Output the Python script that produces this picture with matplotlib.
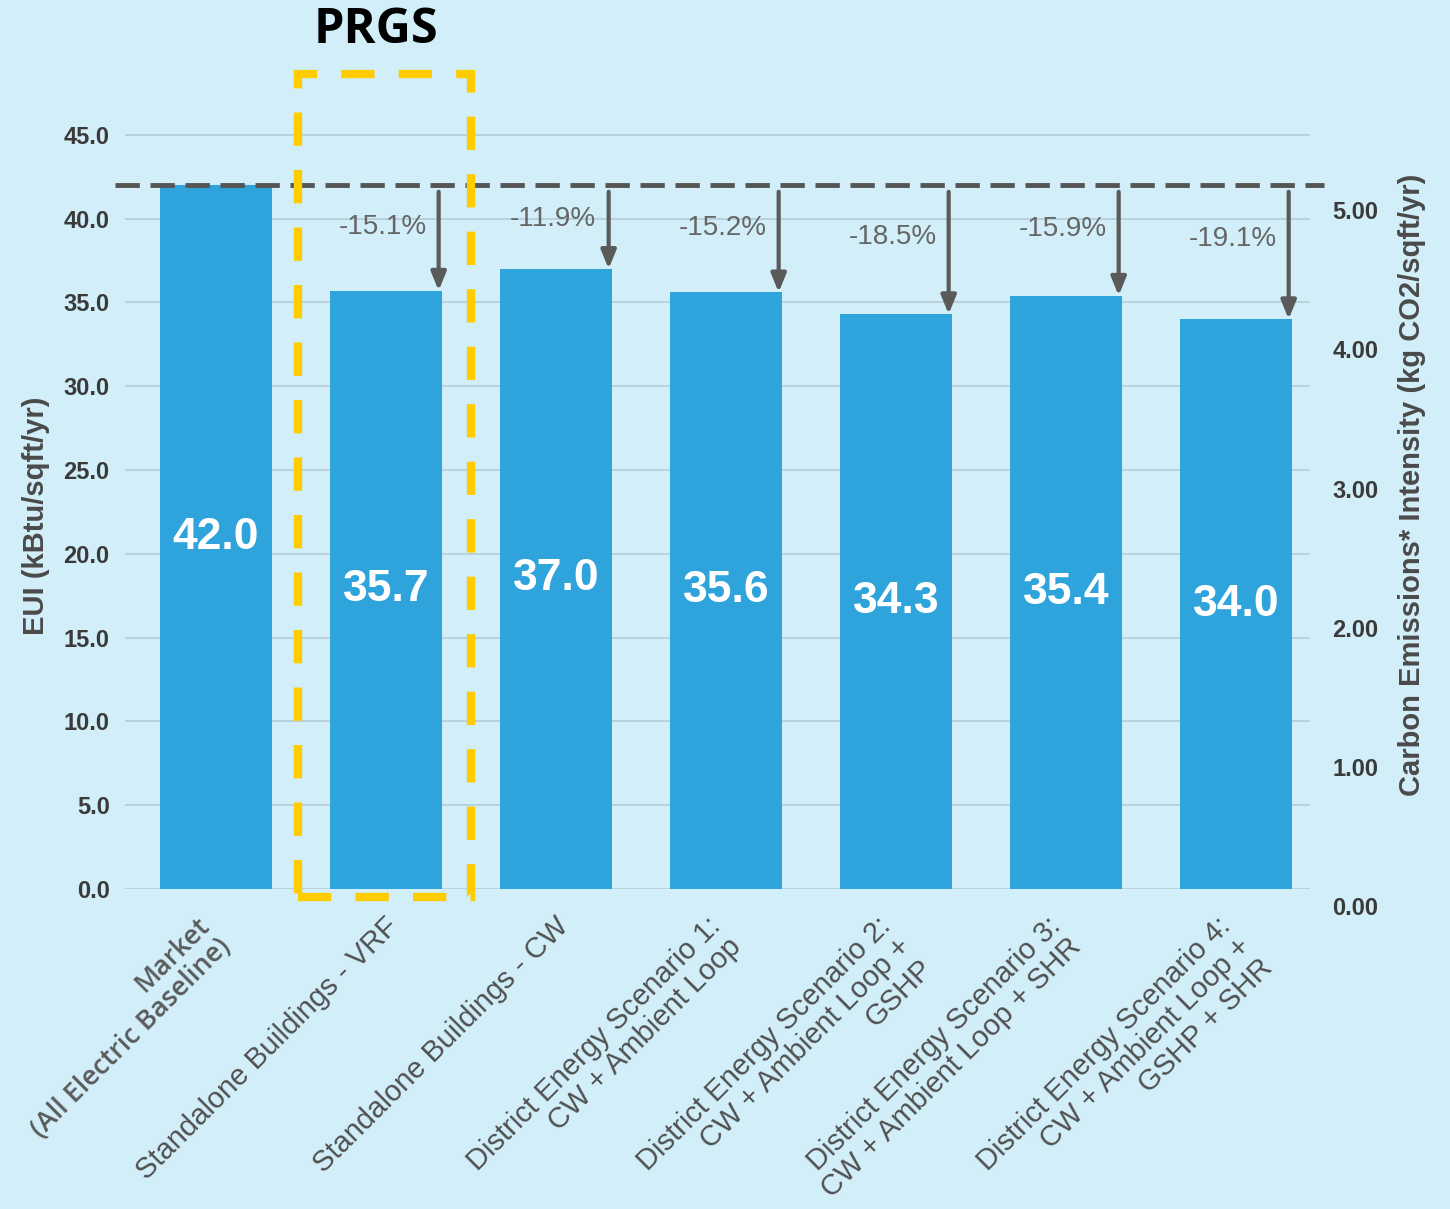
import matplotlib
matplotlib.use('Agg')
import matplotlib.pyplot as plt
import matplotlib.transforms as mtransforms
from matplotlib.patches import Rectangle

# --- Dados ---
categorias = [
    'Market\n(All Electric Baseline)',
    'Standalone Buildings - VRF',
    'Standalone Buildings - CW',
    'District Energy Scenario 1:\nCW + Ambient Loop',
    'District Energy Scenario 2:\nCW + Ambient Loop +\nGSHP',
    'District Energy Scenario 3:\nCW + Ambient Loop + SHR',
    'District Energy Scenario 4:\nCW + Ambient Loop +\nGSHP + SHR',
]
eui = [42.0, 35.7, 37.0, 35.6, 34.3, 35.4, 34.0]
reducao = ['', '-15.1%', '-11.9%', '-15.2%', '-18.5%', '-15.9%', '-19.1%']
ticks_eui = [0, 5, 10, 15, 20, 25, 30, 35, 40, 45]
ticks_co2 = [0, 1, 2, 3, 4, 5]
baseline = eui[0]

# --- Estilo ---
FUNDO = '#d1eef9'
AZUL = '#2ea3dc'
CINZA = '#4a4a4a'
AMARELO = '#ffcc00'
plt.rcParams['font.family'] = ['Liberation Sans', 'DejaVu Sans']

fig = plt.figure(figsize=(14.5, 12.09), dpi=100, facecolor=FUNDO)
ax = fig.add_axes([0.0862, 0.2647, 0.8172, 0.636])
ax.set_facecolor('none')

x = list(range(len(eui)))
ax.bar(x, eui, width=0.66, color=AZUL, zorder=2)
ax.set_xlim(-0.535, 6.435)
ax.set_ylim(0, 45.88)

# grade horizontal
ax.set_yticks(ticks_eui)
ax.set_yticklabels([f'{t:.1f}' for t in ticks_eui], fontsize=17, fontweight='bold', color='#3a3a3a')
ax.grid(axis='y', color='#b4ccd4', linewidth=1.2, zorder=0)
ax.tick_params(axis='y', length=0, pad=11)
ax.set_xticks([])
for s in ax.spines.values():
    s.set_visible(False)

# rótulos do eixo x (alinhados à direita, como no original)
for i, nome in enumerate(categorias):
    dx = -0.2 if '\n' in nome else -0.02
    desloc = mtransforms.ScaledTranslation(dx, -0.23, fig.dpi_scale_trans)
    kw = dict(fontsize=21, color='#505050')
    if i == 0:
        kw = dict(fontsize=19.5, color='#5a5a5a', fontweight='semibold',
                  family=['Open Sans', 'DejaVu Sans'])
    ax.text(i, 0, nome, transform=ax.get_xaxis_transform() + desloc, rotation=45,
            ha='right', va='top', rotation_mode='anchor', multialignment='right',
            linespacing=1.08, **kw)

# linha de referência (baseline)
ax.plot([-0.594, 6.52], [baseline, baseline], linestyle=(0, (5, 2.2)), color='#555555',
        linewidth=3.5, clip_on=False, zorder=4)

# valores dentro das barras, setas e percentuais
for i, v in enumerate(eui):
    ax.text(i, v / 2, f'{v:.1f}', ha='center', va='center', color='white',
            fontsize=32, fontweight='bold', zorder=5)
    if reducao[i]:
        xa = i + 0.31
        ax.annotate('', xy=(xa, v), xytext=(xa, baseline - 0.4),
                    arrowprops=dict(arrowstyle='-|>,head_length=1.1,head_width=0.45',
                                    color='#5a5a5a', lw=3, shrinkA=0, shrinkB=0), zorder=5)
        ax.text(i - 0.02, baseline - 0.4 * (baseline - v), reducao[i], ha='center', va='center',
                fontsize=20, color='#666666', zorder=5)

ax.set_ylabel('EUI (kBtu/sqft/yr)', fontsize=21, fontweight='bold', color=CINZA)
ax.yaxis.set_label_coords(-0.063, 0.486)

# destaque PRGS
ret = Rectangle((0.482, -0.48), 1.018, 49.1, fill=False, edgecolor=AMARELO, linewidth=6,
                linestyle=(0, (4.0, 2.9)), clip_on=False, zorder=6)
ax.add_patch(ret)
ax.text(0.944, 51.2, 'PRGS', ha='center', va='center', fontsize=35, fontweight='bold',
        family=['Open Sans', 'DejaVu Sans'], color='black', clip_on=False)

# eixo secundário (emissões de carbono)
ax2 = fig.add_axes([0.0862, 0.2506, 0.8172, 0.650])
ax2.set_facecolor('none')
ax2.set_xlim(0, 1)
ax2.set_xticks([])
ax2.set_ylim(0, 5.647)
ax2.yaxis.tick_right()
ax2.yaxis.set_label_position('right')
ax2.set_yticks(ticks_co2)
ax2.set_yticklabels([f'{t:.2f}' for t in ticks_co2], fontsize=17, fontweight='bold', color='#3a3a3a')
ax2.tick_params(axis='y', length=0, pad=16)
for s in ax2.spines.values():
    s.set_visible(False)
ax2.set_ylabel('Carbon Emissions* Intensity (kg CO2/sqft/yr)', fontsize=21, fontweight='bold',
               color=CINZA)
ax2.yaxis.set_label_coords(1.074, 0.536)

fig.savefig('out.png', dpi=100, facecolor=FUNDO)
